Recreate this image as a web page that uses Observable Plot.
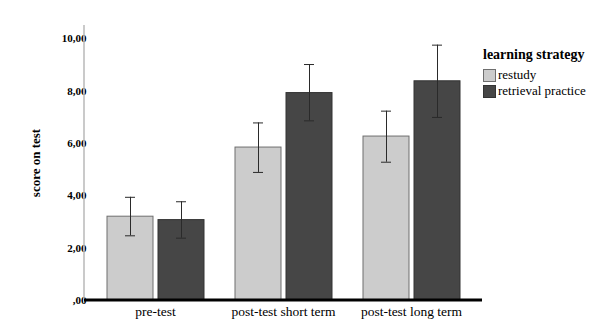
<!DOCTYPE html>
<html>
<head>
<meta charset="utf-8">
<script src="https://cdn.jsdelivr.net/npm/d3@7"></script>
<script src="https://cdn.jsdelivr.net/npm/@observablehq/plot@0.6"></script>
<style>
  html, body { margin: 0; padding: 0; background: #fff; }
  #wrap { position: relative; width: 600px; height: 332px; font-family: 'Liberation Serif', 'Times New Roman', serif; }
  #legend { position: absolute; left: 483px; top: 47px; color: #000; font-family: 'Liberation Serif', 'Times New Roman', serif; }
  #legend .title { font-weight: bold; font-size: 14px; height: 20px; line-height: 16px; }
  #legend .item { display: flex; align-items: center; font-size: 13px; height: 16px; }
  #legend .sw { width: 13px; height: 13px; box-sizing: border-box; border: 1px solid #555; margin-right: 2px; }
</style>
</head>
<body>
<div id="wrap"></div>
<script>
const groups = ["pre-test", "post-test short term", "post-test long term"];
const strategies = ["restudy", "retrieval practice"];
const restudyMean = [3.20, 5.84, 6.26];
const restudyLow = [2.47, 4.89, 5.28];
const restudyHigh = [3.94, 6.78, 7.23];
const retrievalMean = [3.07, 7.92, 8.37];
const retrievalLow = [2.38, 6.86, 6.99];
const retrievalHigh = [3.77, 9.01, 9.75];
const yTicks = [0, 2, 4, 6, 8, 10];
const strategyColors = ["#cccccc", "#464646"];
const strategyStrokes = ["#6e6e6e", "#333333"];

const data = [];
groups.forEach((g, i) => {
  data.push({group: g, strategy: strategies[0], mean: restudyMean[i], low: restudyLow[i], high: restudyHigh[i]});
  data.push({group: g, strategy: strategies[1], mean: retrievalMean[i], low: retrievalLow[i], high: retrievalHigh[i]});
});

const fmt = d => d === 0 ? ",00" : d.toFixed(2).replace(".", ",");

const width = 600, height = 332, mL = 84, mR = 118, mT = 25, mB = 32;
const serif = "'Liberation Serif', 'Times New Roman', serif";

const plot = Plot.plot({
  width, height,
  marginLeft: mL, marginRight: mR, marginTop: mT, marginBottom: mB,
  style: {fontFamily: serif, fontSize: "11px", color: "#000", background: "#fff"},
  fx: {domain: groups, paddingInner: 0, paddingOuter: 0.05},
  x: {domain: strategies, paddingInner: 0.1, paddingOuter: 0.3, axis: null},
  y: {domain: [0, 10.5]},
  color: {domain: strategies, range: strategyColors},
  marks: [
    Plot.axisY({ticks: yTicks, tickFormat: fmt, tickSize: 0, tickPadding: 5, fontWeight: "bold", fontSize: 11,
      fontFamily: serif, label: null}),
    Plot.axisY({ticks: [], tickSize: 0, fontWeight: "bold", fontSize: 13, fontFamily: serif,
      label: "score on test", labelAnchor: "center", labelArrow: "none", labelOffset: 61}),
    Plot.axisFx({anchor: "bottom", tickSize: 0, tickPadding: 6, fontSize: 13.5, fontFamily: serif, label: null}),
    Plot.barY(data, {fx: "group", x: "strategy", y: "mean", fill: "strategy",
      stroke: d => strategyStrokes[strategies.indexOf(d.strategy)], strokeWidth: 1}),
    Plot.ruleX(data, {fx: "group", x: "strategy", y1: "low", y2: "high", stroke: "#2a2a2a", strokeWidth: 1}),
    Plot.tickY(data, {fx: "group", x: "strategy", y: "low", stroke: "#2a2a2a", strokeWidth: 1, insetLeft: 18, insetRight: 18}),
    Plot.tickY(data, {fx: "group", x: "strategy", y: "high", stroke: "#2a2a2a", strokeWidth: 1, insetLeft: 18, insetRight: 18})
  ]
});

// axis lines drawn with the plot's own y scale
const ys = plot.scale("y");
const svg = d3.select(plot);
svg.append("line")
  .attr("x1", mL).attr("x2", mL)
  .attr("y1", ys.apply(10.5)).attr("y2", ys.apply(0))
  .attr("stroke", "#b8b8b8").attr("stroke-width", 1.5);
svg.append("line")
  .attr("x1", mL).attr("x2", width - mR)
  .attr("y1", ys.apply(0)).attr("y2", ys.apply(0))
  .attr("stroke", "#000").attr("stroke-width", 3);

const wrap = document.getElementById("wrap");
wrap.appendChild(plot);

// legend
const cs = plot.scale("color");
const leg = document.createElement("div");
leg.id = "legend";
const t = document.createElement("div");
t.className = "title";
t.textContent = "learning strategy";
leg.appendChild(t);
strategies.forEach(s => {
  const it = document.createElement("div");
  it.className = "item";
  const sw = document.createElement("span");
  sw.className = "sw";
  sw.style.background = cs.apply(s);
  sw.style.borderColor = strategyStrokes[strategies.indexOf(s)];
  it.appendChild(sw);
  const tx = document.createElement("span");
  tx.textContent = s;
  it.appendChild(tx);
  leg.appendChild(it);
});
wrap.appendChild(leg);
</script>
</body>
</html>
